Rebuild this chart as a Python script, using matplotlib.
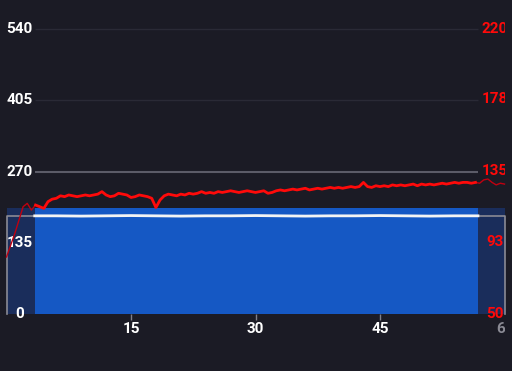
import numpy as np
import matplotlib.pyplot as plt
from matplotlib.transforms import Bbox, TransformedBbox

# minutes for heart rate samples (every 0.5 min)
hr_minutes = np.arange(0, 60.5, 0.5)
heart_rate = [
    84, 91, 98, 106, 114, 116, 112, 115, 114, 113,
    117, 118.5, 119, 120.5, 120, 121, 120.5, 120, 120.5, 121,
    120.5, 121, 121.5, 123, 121, 120, 120.5, 122, 121.5, 121,
    119.5, 120, 121, 120.5, 120, 119, 113.5, 118, 120.5, 121.5,
    121, 120.5, 121.5, 121, 122, 121.5, 122, 123, 122, 122.5,
    122, 123, 122.5, 123, 123.5, 123, 122.5, 123, 123.5, 123,
    122.5, 123, 123.5, 122, 122.5, 123.5, 124, 123.5, 124, 124.5,
    124, 124.5, 125, 124, 124.5, 125, 124.5, 125, 125.5, 125,
    125.5, 125, 125.5, 126, 125.5, 126, 128.5, 126, 125.5, 126.5,
    126, 126.5, 126, 127, 126.5, 127, 126.5, 127, 127.5, 126.5,
    127.5, 127, 127.5, 127, 127.5, 128, 127.5, 128, 128.5, 128,
    128.5, 128.5, 128, 128.5, 128, 130, 130.5, 128.5, 127, 128,
    127.5,
]

# power (left axis)
power_minutes = [0, 60]
power = [200, 200]
sel_start, sel_end = 3.4, 56.8

avg_minutes = [3.4, 6, 9, 12, 15, 18, 21, 24, 27, 30, 33, 36, 39, 42, 45, 48, 51, 54, 56.8]
avg_power = [186, 186, 185.5, 186, 186.5, 186, 185.5, 186, 186, 186.5,
             186, 185.5, 186, 186, 186.5, 186, 185.5, 186, 186]
avg_level = 186

left_ticks = [0, 135, 270, 405, 540]
right_ticks = [50, 93, 135, 178, 220]
x_ticks = [15, 30, 45]

bg = '#1b1b25'
dark_blue = '#1a2d5b'
blue = '#1558c4'
red = '#ff0a0a'
font = dict(fontsize=11, family='Roboto', fontweight='semibold')

fig = plt.figure(figsize=(5.12, 3.71), dpi=100, facecolor=bg)
ax = fig.add_axes([0, 0, 1, 1])
ax.set_facecolor(bg)
for s in ax.spines.values():
    s.set_visible(False)
ax.set_xticks([])
ax.set_yticks([])

px_x = 8.3
x0 = -6.5 / px_x
x1 = 60 + 7.5 / px_x
ax.set_xlim(x0, x1)
px_y = 285 / 540
ax.set_ylim(-57 / px_y, 540 + 29 / px_y)

# full range area (dimmed) and selected area
ax.fill_between(power_minutes, 0, power, color=dark_blue, lw=0, zorder=1)
ax.fill_between([sel_start, sel_end], 0, [power[0], power[-1]], color=blue, lw=0, zorder=2)

# grid lines inside selection
for v in [405, 540]:
    ax.hlines(v, sel_start, sel_end, color='#2a2a36', lw=1, zorder=0)
ax.hlines(270, sel_start, sel_end, color='#5c5c68', lw=1.5, zorder=3)

# average power: gray bracket outside selection, white inside
ax.plot([0, 0, sel_start], [0, avg_level, avg_level], color='#8a8a94', lw=1.2, zorder=3)
ax.plot([sel_end, 60, 60], [avg_level, avg_level, 0], color='#8a8a94', lw=1.2, zorder=3)
ax.plot(avg_minutes, avg_power, color='#f4f4f4', lw=2, zorder=4)

# labels past the right edge of the chart get cut like in the app
clip = TransformedBbox(Bbox([[x0, -200], [60.05, 700]]), ax.transData)

# x ticks
for t in x_ticks:
    ax.vlines(t, -12, 0, color='#80808a', lw=1, zorder=3)
    ax.text(t, -28, str(t), color='white', ha='center', va='center', **font)
t60 = ax.text(60, -28, '60', color='#8a8a94', ha='center', va='center', **font)
t60.set_clip_box(clip)
t60.set_clip_on(True)

# left labels
for v in left_ticks:
    ax.text(1.6, v, str(v), color='white', ha='center', va='center', zorder=6, **font)

# heart rate on right axis
ax2 = ax.twinx()
ax2.set_xlim(x0, x1)
px_hr = 285 / 170
ax2.set_ylim(50 - 57 / px_hr, 220 + 29 / px_hr)
for s in ax2.spines.values():
    s.set_visible(False)
ax2.set_yticks([])

hr = np.array(heart_rate)
inside = (hr_minutes >= 3.5) & (hr_minutes <= 56.5)
ax2.plot(hr_minutes, hr, color='#c00010', lw=1, zorder=5)
ax2.plot(hr_minutes[inside], hr[inside], color=red, lw=2, zorder=6)

for v in right_ticks:
    lbl = ax2.text(58.85, v, str(v), color=red, ha='center', va='center', zorder=7, **font)
    lbl.set_clip_box(clip)
    lbl.set_clip_on(True)

fig.savefig('out.png', dpi=100, facecolor=bg)
